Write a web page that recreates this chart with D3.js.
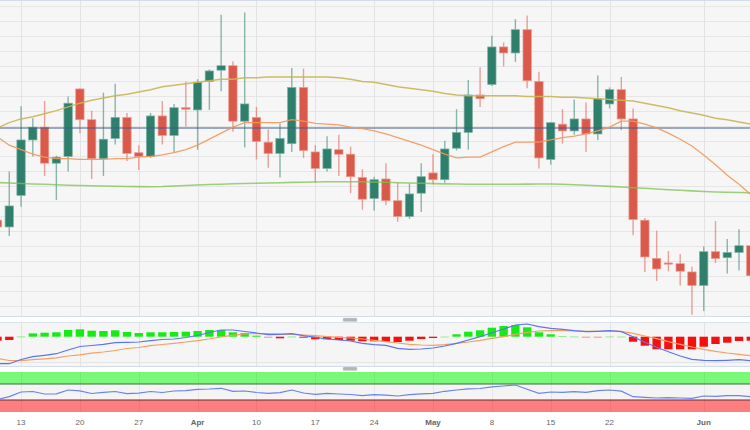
<!DOCTYPE html>
<html><head><meta charset="utf-8">
<script src="https://cdn.jsdelivr.net/npm/d3@7/dist/d3.min.js"></script>
<style>html,body{margin:0;padding:0;background:#fff;}svg{display:block;}</style>
</head><body>
<svg id="c" width="750" height="430"></svg>
<script>
// ---------- data (NZD/USD daily, Mar 9 – Jun 7 2023) ----------
const dates = ["2023-03-09","2023-03-10","2023-03-13","2023-03-14","2023-03-15","2023-03-16","2023-03-17",
"2023-03-20","2023-03-21","2023-03-22","2023-03-23","2023-03-24","2023-03-27","2023-03-28","2023-03-29","2023-03-30","2023-03-31",
"2023-04-03","2023-04-04","2023-04-05","2023-04-06","2023-04-07","2023-04-10","2023-04-11","2023-04-12","2023-04-13","2023-04-14",
"2023-04-17","2023-04-18","2023-04-19","2023-04-20","2023-04-21","2023-04-24","2023-04-25","2023-04-26","2023-04-27","2023-04-28",
"2023-05-01","2023-05-02","2023-05-03","2023-05-04","2023-05-05","2023-05-08","2023-05-09","2023-05-10","2023-05-11","2023-05-12",
"2023-05-15","2023-05-16","2023-05-17","2023-05-18","2023-05-19","2023-05-22","2023-05-23","2023-05-24","2023-05-25","2023-05-26",
"2023-05-29","2023-05-30","2023-05-31","2023-06-01","2023-06-02","2023-06-05","2023-06-06","2023-06-07"];

const open = [.6114,.6105,.6147,.6221,.6238,.6190,.6199,.6289,.6248,.6196,.6223,.6251,.6204,.6199,.6253,.6227,.6264,
.6261,.6299,.6314,.6320,.6246,.6251,.6218,.6203,.6216,.6291,.6205,.6183,.6208,.6202,.6171,.6143,.6169,.6140,.6119,.6150,
.6177,.6168,.6210,.6231,.6281,.6295,.6345,.6337,.6368,.6299,.6195,.6242,.6233,.6249,.6229,.6269,.6288,.6249,.6114,.6063,
.6057,.6056,.6045,.6027,.6072,.6064,.6071,.6080];
const high = [.6117,.6179,.6266,.6250,.6273,.6200,.6279,.6290,.6260,.6284,.6296,.6257,.6214,.6257,.6273,.6269,.6299,
.6302,.6315,.6388,.6326,.6391,.6265,.6235,.6243,.6317,.6316,.6214,.6226,.6228,.6212,.6182,.6172,.6190,.6164,.6163,.6190,
.6202,.6220,.6262,.6301,.6318,.6360,.6351,.6382,.6387,.6312,.6245,.6262,.6275,.6271,.6307,.6291,.6305,.6263,.6117,.6100,
.6073,.6069,.6052,.6079,.6113,.6089,.6102,.6088];
const low = [.6102,.6093,.6132,.6199,.6173,.6141,.6179,.6230,.6169,.6173,.6215,.6193,.6181,.6197,.6215,.6204,.6239,
.6208,.6261,.6286,.6232,.6211,.6195,.6184,.6171,.6205,.6197,.6164,.6179,.6173,.6150,.6128,.6127,.6134,.6112,.6116,.6125,
.6162,.6164,.6207,.6208,.6265,.6293,.6319,.6325,.6290,.6183,.6188,.6216,.6228,.6205,.6221,.6263,.6234,.6094,.6045,.6033,
.6046,.6027,.5988,.5993,.6057,.6043,.6047,.6034];
const close = [.6105,.6133,.6221,.6238,.6190,.6198,.6270,.6248,.6196,.6222,.6251,.6203,.6199,.6253,.6227,.6264,.6262,
.6298,.6313,.6320,.6246,.6269,.6219,.6203,.6223,.6291,.6207,.6183,.6209,.6202,.6172,.6142,.6168,.6140,.6119,.6149,.6172,
.6168,.6209,.6231,.6281,.6276,.6345,.6337,.6368,.6300,.6197,.6244,.6233,.6249,.6229,.6276,.6288,.6249,.6115,.6065,.6049,
.6056,.6046,.6027,.6072,.6063,.6071,.6080,.6040];

const sma20 = [.6225,.6214,.6208,.6202,.6198,.6196,.6196,.6195,.6195,.6195,.6196,.6196,.6198,.6199,.6201,.6204,.6208,
.6214,.6222,.6230,.6238,.6244,.6244,.6244,.6244,.6248,.6246,.6243,.6242,.6241,.6238,.6236,.6233,.6229,.6224,.6219,.6214,
.6208,.6202,.6197,.6198,.6198,.6205,.6212,.6218,.6218,.6218,.6221,.6224,.6226,.6229,.6233,.6238,.6246,.6246,.6242,.6237,
.6230,.6222,.6213,.6201,.6188,.6174,.6162,.6148];
const sma100 = [.6237,.6244,.6249,.6252,.6256,.6260,.6265,.6270,.6274,.6277,.6280,.6282,.6285,.6288,.6292,.6294,.6296,
.6298,.6300,.6302,.6302,.6304,.6304,.6305,.6305,.6305,.6305,.6305,.6305,.6304,.6302,.6299,.6298,.6295,.6292,.6290,.6288,
.6286,.6283,.6281,.6280,.6280,.6280,.6280,.6280,.6279,.6279,.6279,.6278,.6278,.6277,.6276,.6275,.6274,.6273,.6270,.6267,
.6264,.6260,.6257,.6254,.6250,.6248,.6245,.6242];
const sma200 = [.61643,.61636,.61629,.61623,.61619,.61612,.61607,.61603,.61599,.61596,.61592,.61589,.61588,.61587,.61589,.61596,.61603,
.61609,.61615,.61620,.61625,.61629,.61632,.61636,.61640,.61644,.61647,.61649,.61652,.61653,.61653,.61652,.61649,.61645,.61640,.61636,.61632,
.61628,.61624,.61623,.61620,.61619,.61619,.61619,.61620,.61621,.61623,.61623,.61619,.61613,.61607,.61599,.61591,.61583,.61573,.61565,.61556,
.61547,.61539,.61531,.61523,.61517,.61513,.61509,.61505];
const refLevel = 0.6237;

const macd = [-.00270,-.00270,-.00228,-.00200,-.00186,-.00170,-.00133,-.00098,-.00088,-.00076,-.00060,-.00056,-.00053,-.00040,-.00028,-.00023,-.00008,
.00012,.00042,.00067,.00067,.00052,.00037,.00020,.00024,.00030,.00010,-.00006,-.00023,-.00033,-.00043,-.00066,-.00080,-.00086,-.00116,-.00126,-.00123,
-.00113,-.00093,-.00066,-.00033,.00000,.00040,.00077,.00117,.00127,.00100,.00084,.00074,.00060,.00050,.00054,.00060,.00050,.00000,-.00056,-.00106,
-.00150,-.00193,-.00226,-.00236,-.00240,-.00236,-.00230,-.00240];
const signal = [-.00218,-.00238,-.00240,-.00230,-.00221,-.00211,-.00193,-.00181,-.00165,-.00153,-.00138,-.00118,-.00108,-.00090,-.00078,-.00066,-.00053,
-.00040,-.00023,-.00003,.00015,.00027,.00032,.00030,.00027,.00024,.00017,.00010,.00000,-.00006,-.00013,-.00023,-.00036,-.00050,-.00063,-.00076,-.00083,
-.00086,-.00080,-.00066,-.00053,-.00036,-.00016,.00000,.00024,.00044,.00057,.00060,.00060,.00057,.00054,.00054,.00057,.00054,.00034,.00007,-.00020,
-.00050,-.00076,-.00103,-.00126,-.00146,-.00163,-.00176,-.00190];
const hist = [-.00040,-.00033,.00003,.00033,.00040,.00044,.00067,.00074,.00060,.00057,.00064,.00047,.00037,.00044,.00044,.00047,.00050,
.00057,.00067,.00067,.00044,.00037,.00010,-.00008,-.00016,.00003,-.00010,-.00026,-.00026,-.00033,-.00040,-.00046,-.00046,-.00050,-.00053,-.00040,-.00023,
-.00013,.00002,.00024,.00050,.00064,.00090,.00107,.00117,.00094,.00044,.00024,.00007,.00003,-.00008,-.00006,.00003,.00002,-.00050,-.00090,-.00126,
-.00126,-.00126,-.00126,-.00100,-.00073,-.00060,-.00043,-.00040];

const rsi = [31.3,38.3,50.0,51.3,45.0,45.5,55.0,53.0,46.3,49.3,51.3,45.8,47.0,51.3,48.8,52.5,53.3,
56.8,57.5,59.3,51.8,52.5,48.8,46.8,48.3,55.0,47.5,44.3,46.8,45.0,43.8,40.8,43.3,42.0,40.0,43.3,45.5,
46.8,51.8,55.0,58.0,58.8,63.0,65.0,67.5,56.8,46.8,50.0,49.3,50.8,49.3,53.3,55.0,52.0,38.3,36.8,35.0,
35.8,35.0,34.3,40.0,39.3,40.8,40.8,38.3];
const rsiLevels = [30, 70];

const tickDates = ["2023-03-13","2023-03-20","2023-03-27","2023-04-03","2023-04-10","2023-04-17","2023-04-24",
"2023-05-01","2023-05-08","2023-05-15","2023-05-22","2023-06-01"];
const tickLabels = ["13","20","27","Apr","10","17","24","May","8","15","22","Jun"];
const monthLabels = ["Apr","May","Jun"];

// ---------- drawing ----------
const W = 750;
const svg = d3.select("#c");
const x = d3.scalePoint().domain(dates).range([-2.5, 750.8]);
const bw = x.step() * 0.71;
const bars = dates.map((d, i) => ({d, o: open[i], h: high[i], l: low[i], c: close[i], hist: hist[i]}));

const P = {
  main: {top: 0, bottom: 316},
  macd: {top: 322, bottom: 366},
  rsi:  {top: 372, bottom: 412}
};
const defs = svg.append("defs");
Object.entries(P).forEach(([k, p]) => {
  defs.append("clipPath").attr("id", "clip-" + k)
    .append("rect").attr("x", 0).attr("y", p.top).attr("width", W).attr("height", p.bottom - p.top);
});

// scales
const y = d3.scaleLinear().domain([0.5980, 0.6400]).range([320.7, 5.7]);
const ym = d3.scaleLinear().domain([-0.0030, 0.0015]).range([366.7, 321.7]);
const yr = d3.scaleLinear().domain([0, 100]).range([P.rsi.bottom, P.rsi.top]);

// ---- main panel ----
const gMain = svg.append("g").attr("clip-path", "url(#clip-main)");
gMain.append("rect").attr("x", 0).attr("y", P.main.top).attr("width", W).attr("height", P.main.bottom - P.main.top).attr("fill", "#f6f6f6");
gMain.append("g").selectAll("line").data(d3.range(0.5980, 0.64001, 0.002)).join("line")
  .attr("x1", 0).attr("x2", W).attr("y1", d => Math.round(y(d)) + 0.5).attr("y2", d => Math.round(y(d)) + 0.5)
  .attr("stroke", "#e6e6e6").attr("stroke-width", 1);
gMain.append("g").selectAll("line").data(tickDates).join("line")
  .attr("x1", d => Math.round(x(d)) + 0.5).attr("x2", d => Math.round(x(d)) + 0.5)
  .attr("y1", P.main.top).attr("y2", P.main.bottom).attr("stroke", "#e3e3e3");

const up = "#2f7f6d", dn = "#d95a4a";
const cg = gMain.append("g");
cg.selectAll("line.w").data(bars).join("line").attr("class", "w")
  .attr("x1", d => x(d.d)).attr("x2", d => x(d.d))
  .attr("y1", d => y(d.h)).attr("y2", d => y(d.l))
  .attr("stroke", d => d.c >= d.o ? up : dn).attr("stroke-opacity", 0.55).attr("stroke-width", 1.4);
cg.selectAll("rect.b").data(bars).join("rect").attr("class", "b")
  .attr("x", d => x(d.d) - bw / 2)
  .attr("y", d => y(Math.max(d.o, d.c)))
  .attr("width", bw)
  .attr("height", d => Math.max(1.2, Math.abs(y(d.o) - y(d.c))))
  .attr("fill", d => d.c >= d.o ? up : dn)
  .attr("stroke", d => d.c >= d.o ? "#7fb2a6" : "#eb9a8f").attr("stroke-width", 0.7);

gMain.append("line").attr("x1", 0).attr("x2", W).attr("y1", y(refLevel)).attr("y2", y(refLevel))
  .attr("stroke", "#3f5a8c").attr("stroke-width", 1.1);

const maLine = arr => d3.line().x((d, i) => x(dates[i])).y(d => y(d))(arr);
gMain.append("path").attr("d", maLine(sma200)).attr("fill", "none").attr("stroke", "#7cc34f").attr("stroke-opacity", 0.75).attr("stroke-width", 1.6);
gMain.append("path").attr("d", maLine(sma100)).attr("fill", "none").attr("stroke", "#c9b657").attr("stroke-opacity", 0.9).attr("stroke-width", 1.4);
gMain.append("path").attr("d", maLine(sma20)).attr("fill", "none").attr("stroke", "#f3985a").attr("stroke-opacity", 0.9).attr("stroke-width", 1.3);

svg.append("line").attr("x1", 0).attr("x2", W).attr("y1", 0.5).attr("y2", 0.5).attr("stroke", "#d3dcea");
svg.append("line").attr("x1", 0).attr("x2", W).attr("y1", P.main.bottom + 0.5).attr("y2", P.main.bottom + 0.5).attr("stroke", "#d3dcea");

// ---- MACD panel ----
const gM = svg.append("g").attr("clip-path", "url(#clip-macd)");
gM.append("rect").attr("x", 0).attr("y", P.macd.top).attr("width", W).attr("height", P.macd.bottom - P.macd.top).attr("fill", "#f5f5f5");
gM.append("g").selectAll("line").data([-0.0025, 0.0015]).join("line")
  .attr("x1", 0).attr("x2", W).attr("y1", d => Math.round(ym(d)) + 0.5).attr("y2", d => Math.round(ym(d)) + 0.5).attr("stroke", "#e4e4e4");
gM.append("g").selectAll("line").data(tickDates).join("line")
  .attr("x1", d => Math.round(x(d)) + 0.5).attr("x2", d => Math.round(x(d)) + 0.5)
  .attr("y1", P.macd.top).attr("y2", P.macd.bottom).attr("stroke", "#e3e3e3");
gM.append("g").selectAll("rect").data(bars).join("rect")
  .attr("x", d => x(d.d) - bw / 2).attr("width", bw)
  .attr("y", d => d.hist >= 0 ? ym(d.hist) : ym(0))
  .attr("height", d => Math.max(1, Math.abs(ym(d.hist) - ym(0))))
  .attr("fill", d => d.hist >= 0 ? "#14ec14" : "#f50f0f")
  .attr("fill-opacity", d => Math.abs(d.hist) < 0.0001 ? 0.45 : 1);
const mLine = arr => d3.line().x((d, i) => x(dates[i])).y(d => ym(d))(arr);
gM.append("path").attr("d", mLine(signal)).attr("fill", "none").attr("stroke", "#f5a060").attr("stroke-width", 1.2);
gM.append("path").attr("d", mLine(macd)).attr("fill", "none").attr("stroke", "#5b76ee").attr("stroke-width", 1.2);
svg.append("line").attr("x1", 0).attr("x2", W).attr("y1", P.macd.top + 0.5).attr("y2", P.macd.top + 0.5).attr("stroke", "#dde3ec");
svg.append("line").attr("x1", 0).attr("x2", W).attr("y1", P.macd.bottom + 0.5).attr("y2", P.macd.bottom + 0.5).attr("stroke", "#d3dcea");

// ---- RSI panel ----
const gR = svg.append("g").attr("clip-path", "url(#clip-rsi)");
gR.append("rect").attr("x", 0).attr("y", P.rsi.top).attr("width", W).attr("height", P.rsi.bottom - P.rsi.top).attr("fill", "#f4f4f4");
gR.append("rect").attr("x", 0).attr("width", W).attr("y", yr(100)).attr("height", yr(rsiLevels[1]) - yr(100)).attr("fill", "#7af87a");
gR.append("rect").attr("x", 0).attr("width", W).attr("y", yr(rsiLevels[0])).attr("height", yr(0) - yr(rsiLevels[0])).attr("fill", "#fd7e7e");
gR.append("g").selectAll("line").data(tickDates).join("line")
  .attr("x1", d => Math.round(x(d)) + 0.5).attr("x2", d => Math.round(x(d)) + 0.5)
  .attr("y1", P.rsi.top).attr("y2", P.rsi.bottom).attr("stroke", "#000").attr("stroke-opacity", 0.05);
gR.append("line").attr("x1", 0).attr("x2", W).attr("y1", yr(rsiLevels[1])).attr("y2", yr(rsiLevels[1])).attr("stroke", "#3a6d3a").attr("stroke-width", 1.2);
gR.append("line").attr("x1", 0).attr("x2", W).attr("y1", yr(rsiLevels[0])).attr("y2", yr(rsiLevels[0])).attr("stroke", "#6e2a2a").attr("stroke-width", 1.2);
gR.append("path").attr("d", d3.line().x((d, i) => x(dates[i])).y(d => yr(d))(rsi))
  .attr("fill", "none").attr("stroke", "#6a82ee").attr("stroke-width", 1.2);

// grips
[318, 367].forEach(gy => {
  svg.append("rect").attr("x", 343).attr("y", gy).attr("width", 14).attr("height", 3.5).attr("rx", 1)
    .attr("fill", "#b5b5b5").attr("stroke", "#d0d0d0").attr("stroke-width", 0.5);
});

// x labels
svg.append("g").selectAll("text").data(tickDates).join("text")
  .attr("x", d => x(d)).attr("y", 424.5)
  .attr("text-anchor", "middle")
  .attr("font-family", "'Liberation Sans', Arial, sans-serif")
  .attr("font-size", 8)
  .attr("font-weight", (d, i) => monthLabels.includes(tickLabels[i]) ? "bold" : "normal")
  .attr("fill", "#666")
  .text((d, i) => tickLabels[i]);
</script>
</body></html>
